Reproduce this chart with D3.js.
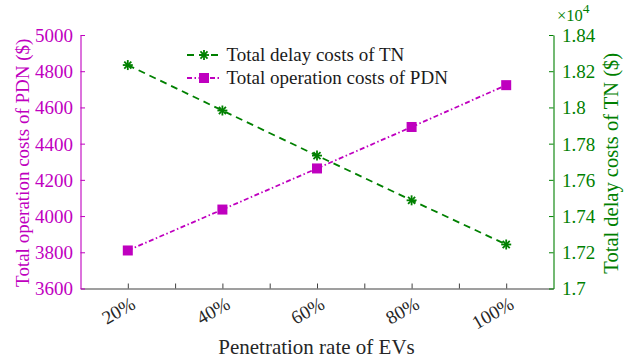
<!DOCTYPE html>
<html>
<head>
<meta charset="utf-8">
<script src="https://cdn.jsdelivr.net/npm/d3@7/dist/d3.min.js"></script>
<style>
  html, body { margin: 0; padding: 0; background: #fff; }
  svg text { font-family: "Liberation Serif", "Times New Roman", serif; }
</style>
</head>
<body>
<svg id="chart" width="633" height="360"></svg>
<script>
// Penetration rates of EVs
const categories = ["20%", "40%", "60%", "80%", "100%"];
// Total operation costs of PDN ($), left axis
const pdnCosts = [3810, 4036, 4263, 4492, 4723];
// Total delay costs of TN ($), right axis (x10^4)
const tnCosts = [1.8234, 1.7983, 1.7734, 1.7487, 1.7243];
// Axis ticks
const leftTicks = [3600, 3800, 4000, 4200, 4400, 4600, 4800, 5000];
const rightTicks = [1.7, 1.72, 1.74, 1.76, 1.78, 1.8, 1.82, 1.84];

const MAGENTA = "#bf00bf";
const GREEN = "#008000";
const AXIS = "#404040";
const SERIF = "'Liberation Serif', 'Times New Roman', serif";

const svg = d3.select("#chart");
const m = { left: 80.5, right: 553.5, top: 35, bottom: 288.5 };

const x = d3.scaleLinear().domain([0.5, 5.5]).range([m.left, m.right]);
const yL = d3.scaleLinear().domain([3600, 5000]).range([m.bottom, m.top]);
const yR = d3.scaleLinear().domain([1.7, 1.84]).range([m.bottom, m.top]);

// Bottom axis: major ticks at categories, minor ticks between them
const xTickVals = d3.range(1, 5.01, 0.5);
const xAxis = svg.append("g").attr("transform", `translate(0,${m.bottom})`)
  .call(d3.axisBottom(x).tickValues(xTickVals).tickSizeInner(-5).tickSizeOuter(0).tickFormat(""));
xAxis.select(".domain").attr("stroke", AXIS).attr("stroke-width", 1.2);
xAxis.selectAll(".tick line").attr("stroke", AXIS).attr("stroke-width", 1);

// Rotated category labels
svg.append("g").selectAll("text").data(categories).join("text")
  .attr("transform", (d, i) => `translate(${x(i + 1) + 9},${m.bottom + 19}) rotate(-30)`)
  .attr("text-anchor", "end")
  .style("font-family", SERIF).style("font-size", "19px")
  .attr("fill", "#262626")
  .text(d => d);

// Left axis
const left = svg.append("g").attr("transform", `translate(${m.left},0)`)
  .call(d3.axisLeft(yL).tickValues(leftTicks).tickSizeInner(-4.5).tickSizeOuter(0).tickPadding(7.5)
    .tickFormat(d3.format("d")));
left.select(".domain").attr("stroke", MAGENTA).attr("stroke-opacity", 0.55).attr("stroke-width", 2);
left.selectAll(".tick line").attr("stroke", MAGENTA).attr("stroke-width", 1);
left.selectAll(".tick text").attr("fill", MAGENTA)
  .style("font-family", SERIF).style("font-size", "19px").attr("dy", "0.34em");

// Right axis
const right = svg.append("g").attr("transform", `translate(${m.right},0)`)
  .call(d3.axisRight(yR).tickValues(rightTicks).tickSizeInner(-4.5).tickSizeOuter(0).tickPadding(8.5)
    .tickFormat(d => String(+d.toFixed(2))));
right.select(".domain").attr("stroke", GREEN).attr("stroke-opacity", 0.55).attr("stroke-width", 2);
right.selectAll(".tick line").attr("stroke", GREEN).attr("stroke-width", 1);
right.selectAll(".tick text").attr("fill", GREEN)
  .style("font-family", SERIF).style("font-size", "19px").attr("dy", "0.34em");

// Exponent marker above the right axis
const exp = svg.append("text").attr("x", 557).attr("y", 21).attr("fill", GREEN)
  .style("font-family", SERIF).style("font-size", "16.5px");
exp.append("tspan").text("\u00d710");
exp.append("tspan").attr("dy", -8).style("font-size", "13.5px").text("4");

// Axis titles
svg.append("text")
  .attr("transform", `translate(29,${(m.top + m.bottom) / 2 + 1}) rotate(-90)`)
  .attr("text-anchor", "middle").attr("fill", MAGENTA)
  .style("font-family", SERIF).style("font-size", "19px")
  .text("Total operation costs of PDN ($)");
svg.append("text")
  .attr("transform", `translate(618,${(m.top + m.bottom) / 2 + 1.5}) rotate(-90)`)
  .attr("text-anchor", "middle").attr("fill", GREEN)
  .style("font-family", SERIF).style("font-size", "20.5px")
  .text("Total delay costs of TN ($)");
svg.append("text")
  .attr("x", 316.5).attr("y", 354)
  .attr("text-anchor", "middle").attr("fill", "#262626")
  .style("font-family", SERIF).style("font-size", "21px")
  .text("Penetration rate of EVs");

// Series lines
const lineL = d3.line().x((d, i) => x(i + 1)).y(d => yL(d));
const lineR = d3.line().x((d, i) => x(i + 1)).y(d => yR(d));

const DASH_TN = "7,5";
const DASH_PDN = "5,2.5,1.5,2.5";

svg.append("path").datum(tnCosts).attr("d", lineR)
  .attr("fill", "none").attr("stroke", GREEN).attr("stroke-width", 1.8)
  .attr("stroke-dasharray", DASH_TN);
svg.append("path").datum(pdnCosts).attr("d", lineL)
  .attr("fill", "none").attr("stroke", MAGENTA).attr("stroke-width", 1.8)
  .attr("stroke-dasharray", DASH_PDN);

// Markers
function asterisk(g, cx, cy, r) {
  for (let k = 0; k < 4; k++) {
    const a = k * Math.PI / 4;
    g.append("line")
      .attr("x1", cx - r * Math.cos(a)).attr("y1", cy - r * Math.sin(a))
      .attr("x2", cx + r * Math.cos(a)).attr("y2", cy + r * Math.sin(a))
      .attr("stroke", GREEN).attr("stroke-width", 1.8);
  }
}
const tnMarks = svg.append("g");
tnCosts.forEach((v, i) => asterisk(tnMarks, x(i + 1), yR(v), 5));

const sq = 10;
svg.append("g").selectAll("rect").data(pdnCosts).join("rect")
  .attr("x", (d, i) => x(i + 1) - sq / 2).attr("y", d => yL(d) - sq / 2)
  .attr("width", sq).attr("height", sq).attr("fill", MAGENTA);

// Legend
const legend = svg.append("g");
const items = [
  { label: "Total delay costs of TN", color: GREEN, dash: DASH_TN, mark: "star", y: 55 },
  { label: "Total operation costs of PDN", color: MAGENTA, dash: DASH_PDN, mark: "square", y: 78 }
];
items.forEach(it => {
  legend.append("line").attr("x1", 187).attr("x2", 220).attr("y1", it.y).attr("y2", it.y)
    .attr("stroke", it.color).attr("stroke-width", 1.8).attr("stroke-dasharray", it.dash);
  if (it.mark === "star") asterisk(legend, 204, it.y, 5);
  else legend.append("rect").attr("x", 204 - sq / 2).attr("y", it.y - sq / 2)
    .attr("width", sq).attr("height", sq).attr("fill", MAGENTA);
  legend.append("text").attr("x", 226.5).attr("y", it.y + 5.5).attr("fill", "#1a1a1a")
    .style("font-family", SERIF).style("font-size", "19px")
    .text(it.label);
});
</script>
</body>
</html>
